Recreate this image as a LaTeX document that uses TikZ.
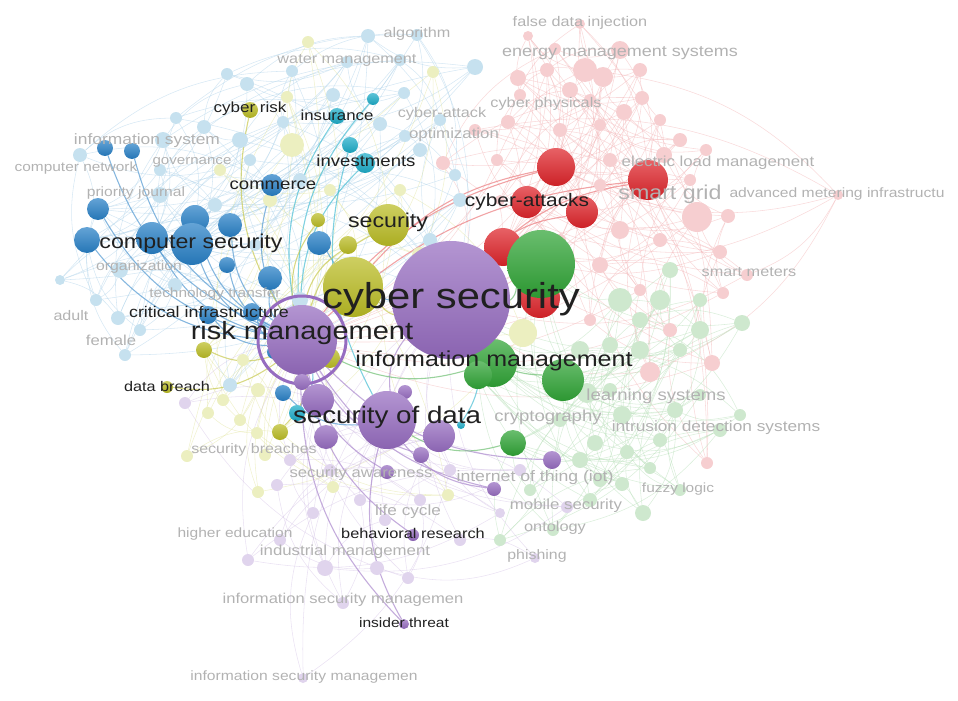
\documentclass[tikz,border=0pt]{standalone}
\usepackage{fontspec}
\setmainfont{Liberation Sans}[FakeStretch=1.16]
\definecolor{pur}{RGB}{150,108,192}
\definecolor{blu}{RGB}{40,128,198}
\definecolor{cya}{RGB}{28,172,200}
\definecolor{oli}{RGB}{186,188,36}
\definecolor{rd}{RGB}{222,36,42}
\definecolor{grn}{RGB}{48,164,54}
\definecolor{pk}{RGB}{246,206,208}
\definecolor{lg}{RGB}{206,232,206}
\definecolor{lb}{RGB}{198,225,239}
\definecolor{ly}{RGB}{236,239,192}
\definecolor{lp}{RGB}{224,212,237}
\definecolor{ink}{RGB}{32,32,32}
\definecolor{fade}{RGB}{178,178,178}
\pgfdeclarelayer{edges}
\pgfsetlayers{edges,main}

\begin{document}
\begin{tikzpicture}[x=1pt,y=-1pt,
    ball/.style={circle,inner sep=0pt,top color=#1!72!white,bottom color=#1!92!black},
    soft/.style={circle,inner sep=0pt,fill=#1},
    dark/.style={text=ink,inner sep=0pt,font=\fontsize{#1}{#1}\selectfont},
    grey/.style={text=fade,inner sep=0pt,font=\fontsize{#1}{#1}\selectfont},
    faint link/.style={draw=#1,line width=0.55pt,opacity=0.5},
    link/.style={draw=#1,line width=1.1pt,opacity=0.7}]
  \useasboundingbox (0,0) rectangle (958,701);

  % pale clusters
  \foreach \x/\y/\r [count=\i] in {528/36/5,580/24/5,555/49/6,585/70/12,603/77/10,620/50/9,640/70/7,518/78/8,547/70/7,570/90/8,
      642/98/7,520/95/6,508/122/7,443/163/7,497/160/6,624/112/8,600/125/6,660/120/6,680/140/7,706/150/6,664/155/8,610/160/7,
      697/217/15,728/216/7,720/252/7,747/275/6,723/293/6,620/230/9,660/240/7,600/265/8,640/290/6,590/320/6,670/330/7,
      650/372/10,712/363/8,707/463/6,838/195/5,560/130/7,590/100/6,475/130/6,690/180/6,500/200/5,560/240/6,600/185/6}
    \node[soft=pk,minimum size=2*\r] (grid\i) at (\x,\y) {};
  \foreach \x/\y/\r [count=\i] in {742/323/8,700/330/9,660/300/10,640/320/8,620/300/12,680/350/7,640/350/9,610/345/8,
      587/393/10,622/415/9,595/443/8,627/452/7,650/468/6,622/484/7,643/513/8,500/540/6,553/530/6,675/410/8,700/395/6,
      720/430/7,680/490/6,660/440/7,600/480/7,580/460/8,560/420/7,610/390/7,740/415/6,530/490/6,590/500/7,580/350/9,
      700/300/7,670/270/8}
    \node[soft=lg,minimum size=2*\r] (ids\i) at (\x,\y) {};
  \foreach \x/\y/\r [count=\i] in {368/36/7,417/35/6,227/74/6,247/84/7,292/71/6,347/62/6,333/95/7,283/122/6,380/124/7,
      404/93/6,475/67/8,176/118/6,204/127/7,163/140/8,80/155/7,240/140/8,118/318/7,96/300/6,140/330/6,60/280/5,120/270/8,
      175/285/7,160/195/8,215/205/7,250/160/6,300/300/8,420/150/7,440/120/6,460/200/7,405/136/6,400/60/6,300/180/7,
      255/245/6,160/170/6,125/355/6,230/385/7,455/175/6,430/240/7}
    \node[soft=lb,minimum size=2*\r] (net\i) at (\x,\y) {};
  \foreach \x/\y/\r [count=\i] in {308/42/6,433/72/6,287/97/6,292/145/12,187/456/6,223/400/6,208/413/6,258/390/7,243/360/6,
      257/433/6,258/492/6,333/487/6,448/495/6,523/333/14,220/170/6,270/200/7,400/190/6,330/190/6,300/340/6,240/420/6,
      420/255/8,265/455/6}
    \node[soft=ly,minimum size=2*\r] (brc\i) at (\x,\y) {};
  \foreach \x/\y/\r [count=\i] in {185/403/6,277/485/6,313/513/6,248/560/6,325/568/8,377/568/7,408/578/6,343/603/6,
      303/678/5,500/513/5,567/507/6,535/558/5,420/500/6,360/500/6,450/470/6,330/470/6,390/440/6,460/540/6,290/460/6,
      520/470/6,385/520/6,280/540/6}
    \node[soft=lp,minimum size=2*\r] (edu\i) at (\x,\y) {};

  % strong clusters
  \node[ball=rd,minimum size=38] (r1) at (556,167) {};
  \node[ball=rd,minimum size=40] (r2) at (648,180) {};
  \node[ball=rd,minimum size=32] (ca) at (527,202) {};
  \node[ball=rd,minimum size=32] (r3) at (582,212) {};
  \node[ball=rd,minimum size=38] (r4) at (503,247) {};
  \node[ball=rd,minimum size=40] (r5) at (540,298) {};
  \node[ball=grn,minimum size=68] (g1) at (541,264) {};
  \node[ball=grn,minimum size=48] (im) at (493,363) {};
  \node[ball=grn,minimum size=28] (g2) at (478,375) {};
  \node[ball=grn,minimum size=42] (g3) at (563,380) {};
  \node[ball=grn,minimum size=26] (g4) at (513,443) {};

  \node[ball=blu,minimum size=16] (b9) at (105,148) {};
  \node[ball=blu,minimum size=16] (b8) at (132,151) {};
  \node[ball=blu,minimum size=22] (b4) at (98,209) {};
  \node[ball=blu,minimum size=26] (b3) at (87,240) {};
  \node[ball=blu,minimum size=32] (b2) at (152,238) {};
  \node[ball=blu,minimum size=28] (b1) at (195,219) {};
  \node[ball=blu,minimum size=42] (cps) at (192,244) {};
  \node[ball=blu,minimum size=24] (b5) at (230,225) {};
  \node[ball=blu,minimum size=16] (b6) at (227,265) {};
  \node[ball=blu,minimum size=24] (b7) at (270,278) {};
  \node[ball=blu,minimum size=22] (com) at (272,185) {};
  \node[ball=blu,minimum size=24] (b10) at (319,243) {};
  \node[ball=blu,minimum size=18] (ci) at (208,315) {};
  \node[ball=blu,minimum size=18] (b11) at (252,312) {};
  \node[ball=blu,minimum size=16] (b12) at (283,393) {};
  \node[ball=blu,minimum size=14] (b13) at (274,352) {};

  \node[ball=cya,minimum size=16] (ins) at (337,116) {};
  \node[ball=cya,minimum size=12] (c1) at (373,99) {};
  \node[ball=cya,minimum size=16] (c2) at (350,145) {};
  \node[ball=cya,minimum size=20] (inv) at (365,163) {};
  \node[ball=cya,minimum size=16] (c3) at (297,413) {};
  \node[ball=cya,minimum size=8] (c4) at (461,425) {};

  \node[ball=oli,minimum size=42] (sec) at (388,225) {};
  \node[ball=oli,minimum size=60] (o1) at (353,287) {};
  \node[ball=oli,minimum size=14] (o2) at (318,220) {};
  \node[ball=oli,minimum size=18] (o3) at (348,245) {};
  \node[ball=oli,minimum size=16] (cr) at (250,110) {};
  \node[ball=oli,minimum size=16] (o4) at (204,350) {};
  \node[ball=oli,minimum size=12] (db) at (167,387) {};
  \node[ball=oli,minimum size=16] (o5) at (280,432) {};
  \node[ball=oli,minimum size=20] (o6) at (330,358) {};

  \node[ball=pur,minimum size=70] (rm) at (302,340) {};
  \draw[pur,line width=3pt] (rm.center) circle[radius=44];
  \node[ball=pur,minimum size=16] (p8) at (302,382) {};
  \node[ball=pur,minimum size=32] (p1) at (318,400) {};
  \node[ball=pur,minimum size=24] (p2) at (326,437) {};
  \node[ball=pur,minimum size=14] (p9) at (405,392) {};
  \node[ball=pur,minimum size=58] (sd) at (387,420) {};
  \node[ball=pur,minimum size=32] (p3) at (439,436) {};
  \node[ball=pur,minimum size=16] (p4) at (421,455) {};
  \node[ball=pur,minimum size=14] (p5) at (387,472) {};
  \node[ball=pur,minimum size=14] (p6) at (494,489) {};
  \node[ball=pur,minimum size=18] (p7) at (552,460) {};
  \node[ball=pur,minimum size=12] (br) at (413,535) {};
  \node[ball=pur,minimum size=10] (it) at (404,624) {};
  \node[ball=pur,minimum size=118] (cs) at (451,300) {};

  \begin{pgfonlayer}{edges}
    \foreach \i in {1,...,44}{
      \pgfmathtruncatemacro\j{mod(\i+2,44)+1}
      \pgfmathtruncatemacro\k{mod(\i+10,44)+1}
      \draw[faint link=pk!85!rd] (grid\i) to[bend right=20] (grid\j);
      \draw[faint link=pk!85!rd] (grid\i) to[bend right=20] (grid\k);
    }
    \foreach \h/\s in {r1/0,r2/1,ca/2,r3/3,r4/4,cs/5,rm/6}
      \foreach \i in {0,...,10}{
        \pgfmathtruncatemacro\k{mod(4*\i+\s,44)+1}
        \draw[faint link=pk!85!rd] (\h) to[bend right=20] (grid\k);
      }
    \foreach \i in {1,...,32}{
      \pgfmathtruncatemacro\j{mod(\i+2,32)+1}
      \pgfmathtruncatemacro\k{mod(\i+8,32)+1}
      \draw[faint link=lg!85!grn] (ids\i) to[bend right=20] (ids\j);
      \draw[faint link=lg!85!grn] (ids\i) to[bend right=20] (ids\k);
    }
    \foreach \h/\s in {g1/0,im/1,g3/2,g4/3,g2/4,cs/5}
      \foreach \i in {0,...,7}{
        \pgfmathtruncatemacro\k{mod(4*\i+\s,32)+1}
        \draw[faint link=lg!85!grn] (\h) to[bend right=20] (ids\k);
      }
    \foreach \i in {1,...,38}{
      \pgfmathtruncatemacro\j{mod(\i+2,38)+1}
      \pgfmathtruncatemacro\k{mod(\i+9,38)+1}
      \draw[faint link=lb!85!blu] (net\i) to[bend right=20] (net\j);
      \draw[faint link=lb!85!blu] (net\i) to[bend right=20] (net\k);
    }
    \foreach \h/\s in {cps/0,b2/1,b3/2,b1/3,rm/4,b4/5,com/6,cs/7}
      \foreach \i in {0,...,8}{
        \pgfmathtruncatemacro\k{mod(4*\i+\s,38)+1}
        \draw[faint link=lb!85!blu] (\h) to[bend right=20] (net\k);
      }
    \foreach \i in {1,...,22}{
      \pgfmathtruncatemacro\j{mod(\i+2,22)+1}
      \draw[faint link=ly!80!oli] (brc\i) to[bend right=20] (brc\j);
      \pgfmathtruncatemacro\k{mod(\i+5,22)+1}
      \draw[faint link=lp!85!pur] (edu\i) to[bend right=20] (edu\k);
    }
    \foreach \h/\s in {sec/0,o1/1,rm/2,o4/3,o5/4}
      \foreach \i in {0,...,5}{
        \pgfmathtruncatemacro\k{mod(4*\i+\s,22)+1}
        \draw[faint link=ly!80!oli] (\h) to[bend right=20] (brc\k);
      }
    \foreach \h/\s in {rm/0,sd/1,cs/2,p3/3,p1/4}
      \foreach \i in {0,...,6}{
        \pgfmathtruncatemacro\k{mod(3*\i+\s,22)+1}
        \draw[faint link=lp!85!pur] (\h) to[bend right=20] (edu\k);
      }
    % strong links
    \foreach \a/\b in {b3/rm,b4/rm,b2/rm,cps/rm,b9/rm,b8/rm,com/rm,b5/rm,b7/rm,ci/rm,b11/rm,b10/cs,b1/rm,b6/rm,b12/sd,b13/rm}
      \draw[link=blu!80] (\a) to[bend right=24] (\b);
    \foreach \a/\b in {ins/rm,c1/rm,inv/rm,c2/sd,c3/rm,c4/cs}
      \draw[link=cya!80] (\a) to[bend right=22] (\b);
    \foreach \a/\b in {cr/rm,sec/rm,o4/rm,db/rm,o5/rm,o2/rm,o3/rm,o1/cs}
      \draw[link=oli!80] (\a) to[bend right=22] (\b);
    \foreach \a/\b in {rm/it,rm/br,rm/p7,rm/p6,sd/p6,rm/p5,cs/sd,rm/p4,sd/it}
      \draw[link=pur!80] (\a) to[bend right=22] (\b);
    \foreach \a/\b in {rm/r2,o1/r1,cs/r2,cs/r3,rm/r1}
      \draw[link=rd!60] (\a) to[bend left=18] (\b);
    \foreach \a/\b in {cs/g3,sd/g4,rm/im,cs/g1}
      \draw[link=grn!70] (\a) to[bend right=22] (\b);
  \end{pgfonlayer}

  % pale labels
  \node[grey=14] (l1) at (417,34) {algorithm};
  \node[grey=14] (l2) at (580,23) {false data injection};
  \node[grey=15.5] (l3) at (620,53) {energy management systems};
  \node[grey=14] (l4) at (347,60) {water management};
  \node[grey=14] (l5) at (442,114) {cyber-attack};
  \node[grey=14] (l6) at (546,104) {cyber physicals};
  \node[grey=14.5] (l7) at (454,135) {optimization};
  \node[grey=14.5] (l8) at (718,163) {electric load management};
  \node[grey=20] (l9) at (670,194) {smart grid};
  \node[grey=13.5] (l10) at (837,194) {advanced metering infrastructu};
  \node[grey=14] (l11) at (749,272) {smart meters};
  \node[grey=15] (l12) at (147,141) {information system};
  \node[grey=13] (l13) at (192,162) {governance};
  \node[grey=13.3] (l14) at (76,168) {computer network};
  \node[grey=13.5] (l15) at (136,193) {priority journal};
  \node[grey=13.6] (l16) at (139,267) {organization};
  \node[grey=13.3] (l17) at (215,294) {technology transfer};
  \node[grey=13.9] (l18) at (71,316) {adult};
  \node[grey=14.4] (l19) at (111,340) {female};
  \node[grey=16] (l20) at (656,396) {learning systems};
  \node[grey=16] (l21) at (548,417) {cryptography};
  \node[grey=14.9] (l22) at (716,428) {intrusion detection systems};
  \node[grey=13.8] (l23) at (254,450) {security breaches};
  \node[grey=14.4] (l24) at (361,474) {security awareness};
  \node[grey=15.2] (l25) at (535,478) {internet of thing (iot)};
  \node[grey=13.3] (l26) at (678,489) {fuzzy logic};
  \node[grey=14.5] (l27) at (566,506) {mobile security};
  \node[grey=14.1] (l28) at (555,528) {ontology};
  \node[grey=14.8] (l29) at (408,512) {life cycle};
  \node[grey=13.4] (l30) at (235,534) {higher education};
  \node[grey=14.5] (l31) at (345,552) {industrial management};
  \node[grey=13.7] (l32) at (537,556) {phishing};
  \node[grey=14.3] (l33) at (343,600) {information security managemen};
  \node[grey=13.5] (l34) at (304,677) {information security managemen};

  % dark labels
  \node[dark=36] (lcs) at (451,299) {cyber security};
  \node[dark=25] (lrm) at (302,333) {risk management};
  \node[dark=21.6] (lim) at (494,361) {information management};
  \node[dark=23.9] (lsd) at (387,417) {security of data};
  \node[dark=20] (lcps) at (191,243) {computer security};
  \node[dark=20] (lsec) at (388,222) {security};
  \node[dark=18] (lca) at (527,202) {cyber-attacks};
  \node[dark=16] (lcom) at (273,185) {commerce};
  \node[dark=16] (linv) at (366,161) {investments};
  \node[dark=14.5] (lins) at (337,115) {insurance};
  \node[dark=14.7] (lcr) at (250,109) {cyber risk};
  \node[dark=15.4] (lci) at (209,312) {critical infrastructure};
  \node[dark=14] (ldb) at (167,386) {data breach};
  \node[dark=14.1] (lbr) at (413,533) {behavioral research};
  \node[dark=13.4] (lit) at (404,623) {insider threat};
\end{tikzpicture}
\end{document}
